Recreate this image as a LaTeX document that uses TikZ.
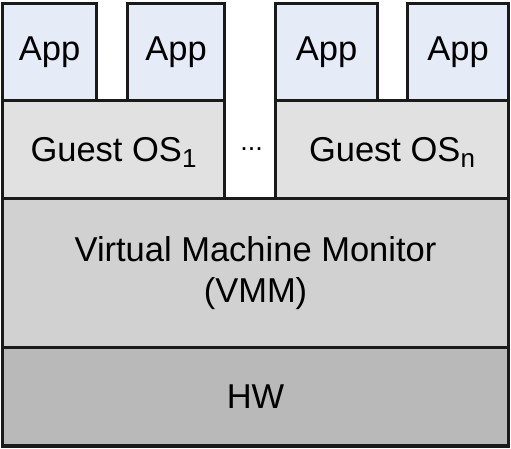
\documentclass[tikz,border=0pt]{standalone}
\usepackage{fontspec}
\setmainfont{Liberation Sans}
\definecolor{edge}{HTML}{1A1A1A}
\definecolor{appfill}{HTML}{E6ECF7}
\definecolor{guestfill}{HTML}{E1E1E1}
\definecolor{vmmfill}{HTML}{D0D1D0}
\definecolor{hwfill}{HTML}{B9B9B9}
\newcommand\ossub[1]{\raisebox{-6pt}{\fontsize{26}{26}\selectfont #1}}
\begin{document}
\begin{tikzpicture}[x=1pt,y=1pt,
  layer/.style={draw=edge,line width=3.2pt,inner sep=0pt,outer sep=0pt,anchor=north west,
    font=\fontsize{34.5}{41}\selectfont,align=center},
  appbox/.style={layer,fill=appfill,minimum width=94pt,minimum height=97pt},
  guestbox/.style={layer,fill=guestfill,minimum height=98pt,text depth=0pt}]
\useasboundingbox (0,0) rectangle (511,449);
%hardware and monitor
\node[layer,fill=hwfill,minimum width=506pt,minimum height=98.5pt,text depth=0pt] (hw) at (2.5,101.5) {HW};
\node[layer,fill=vmmfill,minimum width=506pt,minimum height=149pt] (vmm) at (2.5,250.5) {Virtual Machine Monitor\\(VMM)};
%guests
\node[guestbox,minimum width=222pt] (os1) at (2.5,348.5) {Guest OS\ossub{1}};
\node[guestbox,minimum width=233pt] (osn) at (275.5,348.5) {Guest OS\ossub{n}};
\node[font=\fontsize{27}{27}\selectfont,anchor=base] (dots) at (251.7,298.3) {...};
%apps
\node[appbox] (app1) at (2.5,445.5) {App};
\node[appbox,minimum width=97pt] (app2) at (127.5,445.5) {App};
\node[appbox,minimum width=102pt] (app3) at (275.5,445.5) {App};
\node[appbox,minimum width=101pt] (app4) at (407.5,445.5) {App};
\end{tikzpicture}
\end{document}
